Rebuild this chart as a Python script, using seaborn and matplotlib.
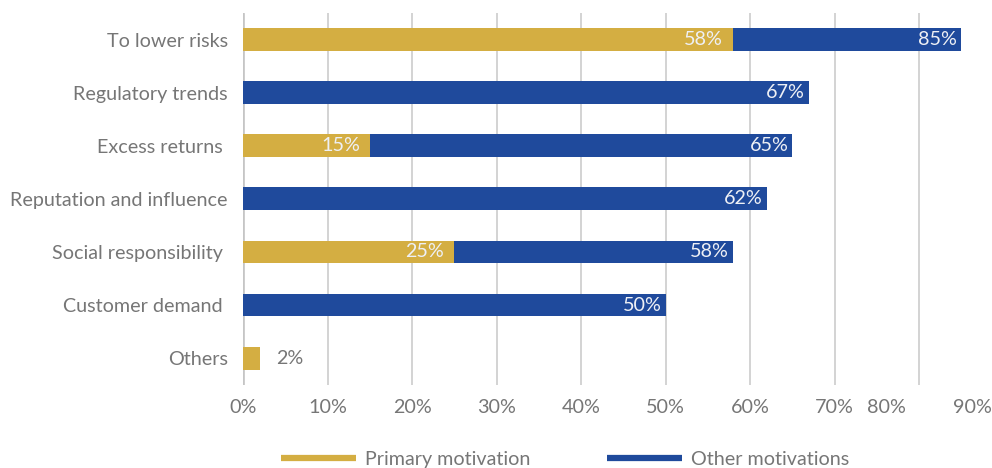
import matplotlib
matplotlib.use("Agg")
import matplotlib.pyplot as plt
from matplotlib.lines import Line2D
import numpy as np
import pandas as pd
import seaborn as sns

# Survey data: motivations for sustainable investing (% of respondents)
categories = ["To lower risks", "Regulatory trends", "Excess returns ",
              "Reputation and influence", "Social responsibility ",
              "Customer demand ", "Others"]
primary = [58, np.nan, 15, np.nan, 25, np.nan, 2]
other = [85, 67, 65, 62, 58, 50, np.nan]
tick_labels = ["0%", "10%", "20%", "30%", "40%", "50%", "60%", "70%", "80%", "90%"]
series_names = ["Primary motivation", "Other motivations"]

GOLD = "#D4AE42"
BLUE = "#1F4A9C"
GREY = "#767676"
FS = 14.2

sns.set_theme(style="white")
plt.rcParams["font.family"] = ["Lato", "DejaVu Sans"]

df = pd.DataFrame({"category": categories, "primary": primary, "other": other})

fig = plt.figure(figsize=(9.92, 4.68), dpi=100)
ax = fig.add_axes([0.245, 0.178, 0.7496, 0.794])

sns.barplot(data=df, y="category", x="other", order=categories, color=BLUE,
            saturation=1, width=0.43, orient="h", linewidth=0, ax=ax)
sns.barplot(data=df, y="category", x="primary", order=categories, color=GOLD,
            saturation=1, width=0.43, orient="h", linewidth=0, ax=ax)

# value labels at the end of each bar
for cont, pad in zip(ax.containers, (4, 10)):
    for bar in cont:
        w = bar.get_width()
        if not np.isfinite(w) or w <= 0:
            continue
        yc = bar.get_y() + bar.get_height() / 2
        if w < 5:
            ax.annotate(f"{w:.0f}%", (w, yc), xytext=(12, 0),
                        textcoords="offset points", ha="left", va="center",
                        color=GREY, fontsize=FS)
        else:
            ax.annotate(f"{w:.0f}%", (w, yc), xytext=(-pad * 0.72, 0),
                        textcoords="offset points", ha="right", va="center",
                        color="#EEF0F5", fontsize=FS)

ax.set_xlim(0, 88)
ax.set_ylim(len(categories) - 0.5, -0.5)

# vertical gridlines every 10%
grid_pos = np.arange(0, 81, 10)
ax.xaxis.remove_overlapping_locs = False
ax.set_xticks(grid_pos, minor=True)
ax.grid(False, axis="y")
ax.grid(False, axis="x", which="major")
ax.grid(True, axis="x", which="minor", color="#C8C8C8", linewidth=1.1)
ax.axvline(0, color="#BFBFBF", linewidth=1.8, zorder=0.5)

tick_pos = [0, 10, 20, 30, 40, 50, 60, 70, 76.1, 86.3]
ax.set_xticks(tick_pos)
ax.set_xticklabels(tick_labels)
ax.tick_params(axis="x", which="both", length=0, pad=10, labelsize=FS,
               labelcolor=GREY)
ax.tick_params(axis="y", length=0, pad=11, labelsize=FS, labelcolor=GREY)
ax.set_xlabel("")
ax.set_ylabel("")
for s in ax.spines.values():
    s.set_visible(False)
ax.set_axisbelow(True)

handles = [Line2D([], [], color=GOLD, linewidth=4.5, solid_capstyle="butt"),
           Line2D([], [], color=BLUE, linewidth=4.5, solid_capstyle="butt")]
fig.legend(handles, series_names, loc="center", ncol=2,
           bbox_to_anchor=(565 / 992, 8.5 / 468), frameon=False,
           fontsize=FS, labelcolor=GREY, handlelength=3.8,
           handletextpad=0.45, columnspacing=3.9)

fig.savefig("out.png", dpi=100)
